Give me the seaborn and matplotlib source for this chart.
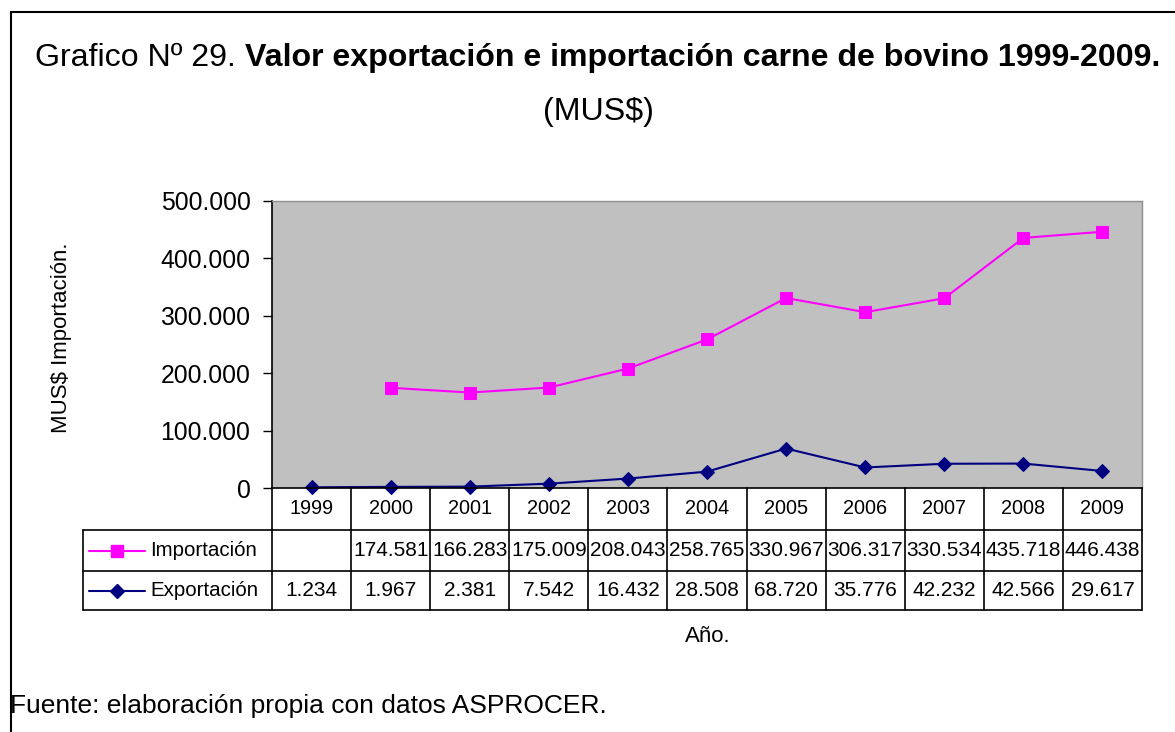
import numpy as np
import pandas as pd
import matplotlib
matplotlib.use("Agg")
import matplotlib.pyplot as plt
import matplotlib.transforms as mtransforms
from matplotlib.lines import Line2D
from matplotlib.ticker import FuncFormatter
import seaborn as sns

sns.set_style("white")
plt.rcParams["font.family"] = ["Liberation Sans", "DejaVu Sans"]
plt.rcParams["text.color"] = "black"
plt.rcParams["ytick.color"] = "black"

# Data
years = [1999, 2000, 2001, 2002, 2003, 2004, 2005, 2006, 2007, 2008, 2009]
importacion = [np.nan, 174581, 166283, 175009, 208043, 258765, 330967, 306317, 330534, 435718, 446438]
exportacion = [1234, 1967, 2381, 7542, 16432, 28508, 68720, 35776, 42232, 42566, 29617]
series_names = ["Importación", "Exportación"]

df = pd.DataFrame({"year": years, "Importación": importacion, "Exportación": exportacion})

W, H = 1175, 732
fig = plt.figure(figsize=(W / 100, H / 100), dpi=100)


def fx(px):
    return px / W


def fy(py):
    return 1 - py / H


def fmt(v):
    if pd.isna(v):
        return ""
    return f"{int(v):,}".replace(",", ".")


pink = "#FF00FF"
navy = "#000080"

ax = fig.add_axes([fx(272), fy(488), fx(1142) - fx(272), fy(201) - fy(488)])
ax.set_facecolor("#C0C0C0")

sns.lineplot(data=df, x="year", y="Importación", color=pink, marker="s", markersize=8,
             markeredgecolor=pink, linewidth=1.5, ax=ax)
sns.lineplot(data=df, x="year", y="Exportación", color=navy, marker="D", markersize=7,
             markeredgecolor=navy, linewidth=1.5, ax=ax, clip_on=False)

ax.set_xlim(1998.5, 2009.5)
ax.set_ylim(0, 500000)
ax.set_yticks(range(0, 500001, 100000))
ax.yaxis.set_major_formatter(FuncFormatter(lambda v, p: fmt(v)))
ax.tick_params(axis="y", labelsize=17.8, length=6.5, width=1, direction="out", left=True, pad=9,
               colors="black")
ax.set_xticks([])
ax.set_xlabel("")
ax.set_ylabel("")
for s in ["left", "bottom"]:
    ax.spines[s].set_color("black")
    ax.spines[s].set_linewidth(1.2)
for s in ["top", "right"]:
    ax.spines[s].set_color("#909090")
    ax.spines[s].set_linewidth(1)

# Data table below the axis
bt = mtransforms.blended_transform_factory(ax.transData, fig.transFigure)
rows_px = [488, 530, 571, 610]
lkw = dict(color="black", linewidth=1.2, clip_on=False)
for i in range(len(years) + 1):
    xb = years[0] - 0.5 + i
    fig.add_artist(Line2D([xb, xb], [fy(488), fy(610)], transform=bt, **lkw))
for py in rows_px[1:]:
    fig.add_artist(Line2D([fx(83), fx(1142)], [fy(py), fy(py)], transform=fig.transFigure, **lkw))
fig.add_artist(Line2D([fx(83), fx(83)], [fy(530), fy(610)], transform=fig.transFigure, **lkw))

for yr in years:
    fig.text(yr, fy(509), str(yr), transform=bt, ha="center", va="center", fontsize=14.3)
for yr, vi, ve in zip(years, importacion, exportacion):
    fig.text(yr, fy(551), fmt(vi), transform=bt, ha="center", va="center", fontsize=15)
    fig.text(yr, fy(591), fmt(ve), transform=bt, ha="center", va="center", fontsize=15)

# legend keys inside table
for name, cy, col, mk, ms in [(series_names[0], 551, pink, "s", 8), (series_names[1], 591, navy, "D", 7)]:
    fig.add_artist(Line2D([fx(89), fx(145)], [fy(cy), fy(cy)], color=col, linewidth=1.5,
                          transform=fig.transFigure))
    fig.add_artist(Line2D([fx(117)], [fy(cy)], color=col, marker=mk, markersize=ms,
                          markeredgecolor=col, transform=fig.transFigure))
    fig.text(fx(150), fy(cy), name, ha="left", va="center", fontsize=14.8)

# Labels
fig.text(fx(62), fy(338), "MUS$ Importación.", rotation=90, ha="center", va="center", fontsize=16)
fig.text(fx(708), fy(636), "Año.", ha="center", va="center", fontsize=16)
fig.text(fx(10), fy(706), "Fuente: elaboración propia con datos ASPROCER.", ha="left", va="center", fontsize=19)

# Title (regular + bold part)
t2 = fig.text(fx(1160), fy(58), "Valor exportación e importación carne de bovino 1999-2009.",
              ha="right", va="center", fontsize=23.1, fontweight="bold")
fig.canvas.draw()
bb = t2.get_window_extent(fig.canvas.get_renderer())
fig.text(bb.x0 / W, fy(58), "Grafico Nº 29. ", ha="right", va="center", fontsize=23.1)
fig.text(fx(598), fy(112), "(MUS$)", ha="center", va="center", fontsize=23.1)

# Frame
fig.add_artist(Line2D([fx(11), 1], [fy(12), fy(12)], color="black", linewidth=1.5, transform=fig.transFigure))
fig.add_artist(Line2D([fx(11), fx(11)], [fy(12), 0], color="black", linewidth=1.5, transform=fig.transFigure))

fig.savefig("out.png", dpi=100, facecolor="white")
